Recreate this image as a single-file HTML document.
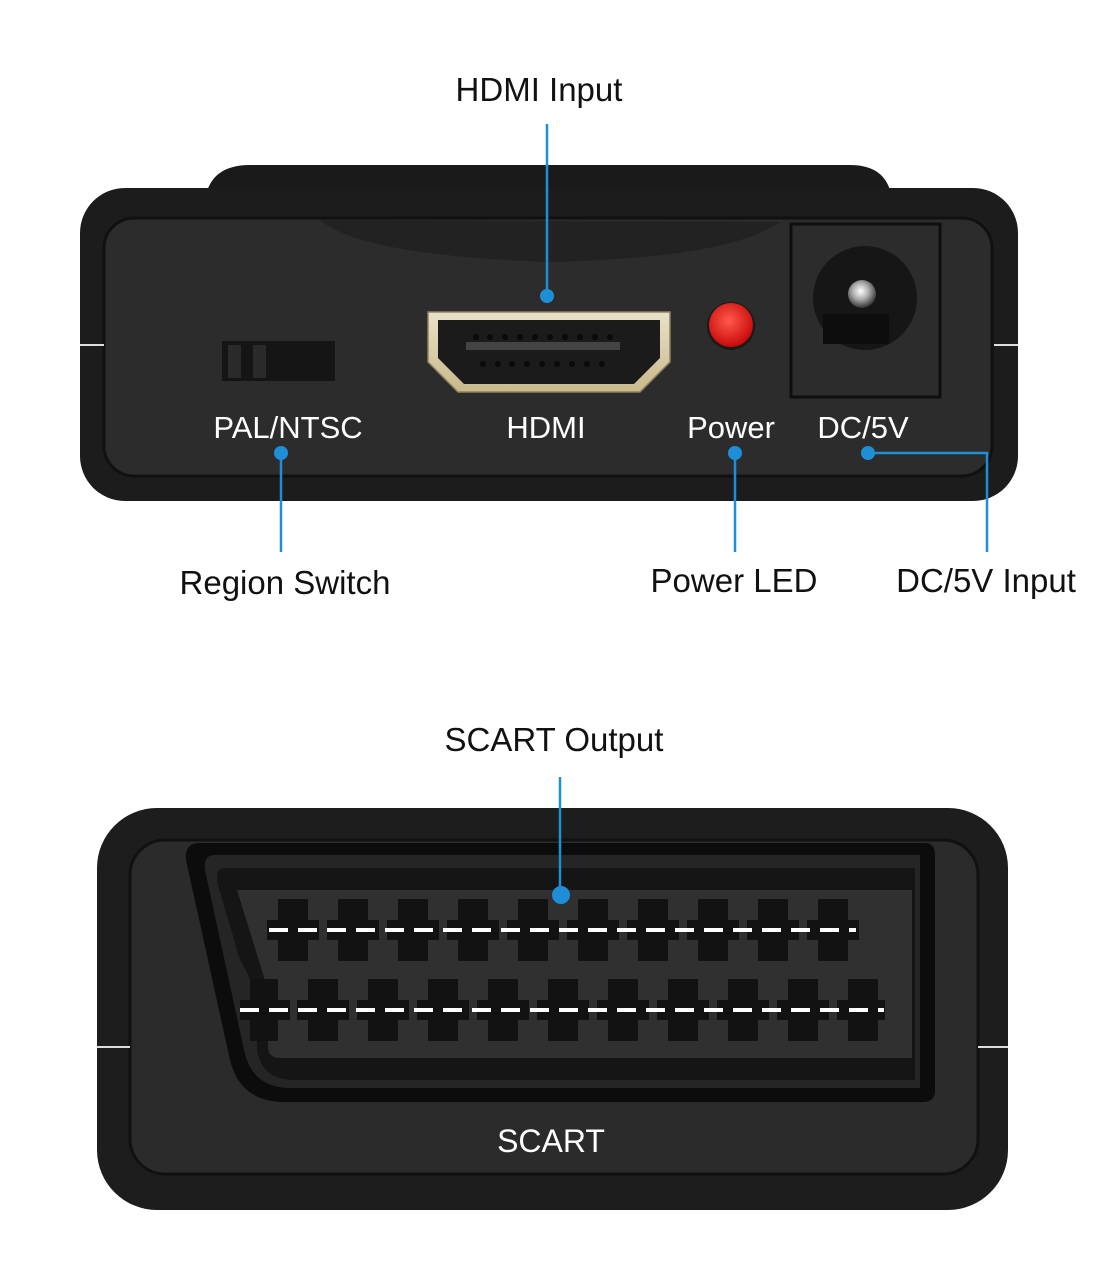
<!DOCTYPE html>
<html><head><meta charset="utf-8"><style>
html,body{margin:0;padding:0;background:#fff;}
svg{display:block}
text{font-family:"Liberation Sans",Arial,sans-serif;}
</style></head><body>
<svg width="1116" height="1283" viewBox="0 0 1116 1283" xmlns="http://www.w3.org/2000/svg">
<defs>
<linearGradient id="gold" x1="0" y1="0" x2="0" y2="1"><stop offset="0" stop-color="#e8e2c8"/><stop offset="1" stop-color="#c9b98a"/></linearGradient>
<radialGradient id="led" cx="0.45" cy="0.4" r="0.6"><stop offset="0" stop-color="#ff5a4a"/><stop offset="1" stop-color="#c80a0a"/></radialGradient>
<radialGradient id="pin" cx="0.45" cy="0.4" r="0.6"><stop offset="0" stop-color="#fff"/><stop offset="0.5" stop-color="#aaa"/><stop offset="1" stop-color="#333"/></radialGradient>
</defs>
<rect width="1116" height="1283" fill="#fff"/>

<!-- TOP DEVICE -->
<path d="M205 200 Q210 165 250 165 L850 165 Q888 165 892 200 Z" fill="#1a1a1a"/>
<rect x="80" y="188" width="938" height="313" rx="45" fill="#1c1c1c"/>
<rect x="104" y="218" width="888" height="258" rx="30" fill="#2c2c2c" stroke="#111" stroke-width="3"/>
<path d="M320 220 Q360 255 548 262 Q730 258 780 222 Z" fill="#222"/>
<line x1="80" y1="345" x2="104" y2="345" stroke="#ddd" stroke-width="2"/>
<line x1="994" y1="345" x2="1018" y2="345" stroke="#ddd" stroke-width="2"/>
<rect x="222" y="341" width="113" height="40" fill="#151515"/>
<rect x="228" y="345" width="13" height="33" fill="#2a2a2a"/>
<rect x="253" y="345" width="13" height="33" fill="#2a2a2a"/>
<path d="M428 312 L670 312 L670 362 L640 392 L458 392 L428 362 Z" fill="url(#gold)" stroke="#8d8160" stroke-width="1.5"/>
<path d="M438 320 L660 320 L660 358 L634 384 L464 384 L438 358 Z" fill="#1b1b1b"/>
<rect x="466" y="342" width="154" height="8" fill="#444"/>
<g fill="#0a0a0a">
<circle cx="476" cy="337" r="3"/><circle cx="490" cy="337" r="3"/><circle cx="505" cy="337" r="3"/><circle cx="520" cy="337" r="3"/><circle cx="535" cy="337" r="3"/><circle cx="550" cy="337" r="3"/><circle cx="565" cy="337" r="3"/><circle cx="580" cy="337" r="3"/><circle cx="595" cy="337" r="3"/><circle cx="610" cy="337" r="3"/>
<circle cx="483" cy="364" r="3"/><circle cx="498" cy="364" r="3"/><circle cx="512" cy="364" r="3"/><circle cx="527" cy="364" r="3"/><circle cx="542" cy="364" r="3"/><circle cx="557" cy="364" r="3"/><circle cx="572" cy="364" r="3"/><circle cx="587" cy="364" r="3"/><circle cx="602" cy="364" r="3"/>
</g>
<circle cx="731" cy="326" r="24" fill="#1a1a1a"/>
<circle cx="731" cy="325" r="22" fill="url(#led)"/>
<rect x="791" y="224" width="149" height="173" fill="#2c2c2c" stroke="#0e0e0e" stroke-width="3"/>
<circle cx="865" cy="298" r="52" fill="#161616"/>
<rect x="823" y="314" width="66" height="30" fill="#0d0d0d"/>
<circle cx="862" cy="294" r="14" fill="url(#pin)"/>
<g fill="#fff" font-size="31">
<text x="288" y="438" text-anchor="middle">PAL/NTSC</text>
<text x="546" y="438" text-anchor="middle">HDMI</text>
<text x="731" y="438" text-anchor="middle">Power</text>
<text x="863" y="438" text-anchor="middle">DC/5V</text>
</g>

<!-- BOTTOM DEVICE -->
<rect x="97" y="808" width="911" height="402" rx="60" fill="#1d1d1d"/>
<rect x="130" y="840" width="848" height="334" rx="35" fill="#2b2b2b" stroke="#111" stroke-width="3"/>
<line x1="97" y1="1047" x2="130" y2="1047" stroke="#ddd" stroke-width="2"/>
<line x1="978" y1="1047" x2="1008" y2="1047" stroke="#ddd" stroke-width="2"/>
<path d="M200 843 L925 843 Q935 843 935 855 L935 1090 Q935 1102 923 1102 L285 1102 Q240 1102 230 1060 L186 860 Q184 843 200 843 Z" fill="#0c0c0c"/>
<path d="M215 855 L920 855 L920 1088 L290 1088 Q252 1088 244 1050 L205 870 Q203 855 215 855 Z" fill="#252525"/>
<path d="M225 868 L915 868 L915 1080 L295 1080 Q262 1080 257 1050 L257 1005 Q255 985 240 960 L218 885 Q214 868 225 868 Z" fill="#151515"/>
<path d="M237 890 L912 890 L912 1058 L280 1058 Q268 1058 268 1046 L268 990 L237 890 Z" fill="#303030"/>
<g fill="#121212">
<rect x="278" y="899" width="30" height="62"/><rect x="267" y="920" width="52" height="20"/>
<rect x="338" y="899" width="30" height="62"/><rect x="327" y="920" width="52" height="20"/>
<rect x="398" y="899" width="30" height="62"/><rect x="387" y="920" width="52" height="20"/>
<rect x="458" y="899" width="30" height="62"/><rect x="447" y="920" width="52" height="20"/>
<rect x="518" y="899" width="30" height="62"/><rect x="507" y="920" width="52" height="20"/>
<rect x="578" y="899" width="30" height="62"/><rect x="567" y="920" width="52" height="20"/>
<rect x="638" y="899" width="30" height="62"/><rect x="627" y="920" width="52" height="20"/>
<rect x="698" y="899" width="30" height="62"/><rect x="687" y="920" width="52" height="20"/>
<rect x="758" y="899" width="30" height="62"/><rect x="747" y="920" width="52" height="20"/>
<rect x="818" y="899" width="30" height="62"/><rect x="807" y="920" width="52" height="20"/>

<rect x="250" y="979" width="28" height="62"/><rect x="240" y="1000" width="50" height="20"/>
<rect x="308" y="979" width="30" height="62"/><rect x="297" y="1000" width="52" height="20"/>
<rect x="368" y="979" width="30" height="62"/><rect x="357" y="1000" width="52" height="20"/>
<rect x="428" y="979" width="30" height="62"/><rect x="417" y="1000" width="52" height="20"/>
<rect x="488" y="979" width="30" height="62"/><rect x="477" y="1000" width="52" height="20"/>
<rect x="548" y="979" width="30" height="62"/><rect x="537" y="1000" width="52" height="20"/>
<rect x="608" y="979" width="30" height="62"/><rect x="597" y="1000" width="52" height="20"/>
<rect x="668" y="979" width="30" height="62"/><rect x="657" y="1000" width="52" height="20"/>
<rect x="728" y="979" width="30" height="62"/><rect x="717" y="1000" width="52" height="20"/>
<rect x="788" y="979" width="30" height="62"/><rect x="777" y="1000" width="52" height="20"/>
<rect x="848" y="979" width="30" height="62"/><rect x="837" y="1000" width="48" height="20"/>
</g>
<line x1="269" y1="930" x2="856" y2="930" stroke="#fff" stroke-width="4" stroke-dasharray="19,10"/>
<line x1="240" y1="1010" x2="884" y2="1010" stroke="#fff" stroke-width="4" stroke-dasharray="19,10"/>
<text x="551" y="1152" text-anchor="middle" fill="#fff" font-size="32">SCART</text>

<!-- callouts -->
<g stroke="#1e8fd6" stroke-width="2.5" fill="none">
<line x1="547" y1="124" x2="547" y2="295"/>
<line x1="281" y1="453" x2="281" y2="552"/>
<line x1="735" y1="453" x2="735" y2="552"/>
<polyline points="868,453 987,453 987,552"/>
<line x1="560" y1="777" x2="560" y2="895"/>
</g>
<g fill="#1e8fd6">
<circle cx="547" cy="296" r="7"/><circle cx="281" cy="453" r="7"/><circle cx="735" cy="453" r="7"/><circle cx="868" cy="453" r="7"/><circle cx="561" cy="895" r="9"/>
</g>
<g fill="#111" font-size="33">
<text x="539" y="101" text-anchor="middle">HDMI Input</text>
<text x="285" y="594" text-anchor="middle">Region Switch</text>
<text x="734" y="592" text-anchor="middle">Power LED</text>
<text x="986" y="592" text-anchor="middle">DC/5V Input</text>
<text x="554" y="751" text-anchor="middle">SCART Output</text>
</g>
</svg>
</body></html>
